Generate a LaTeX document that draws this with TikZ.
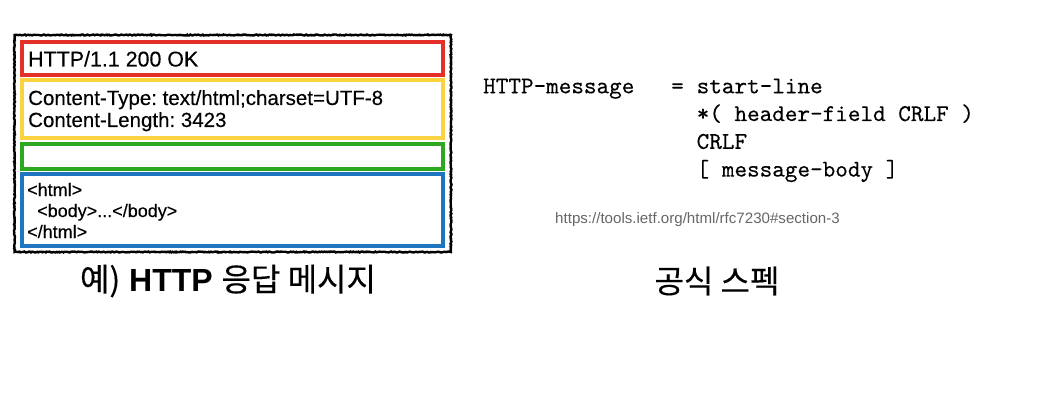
\documentclass[tikz,border=0pt]{standalone}
\usepackage{fontspec}
\setmainfont{Liberation Sans}
\newfontfamily\msgfont{Liberation Sans}[FakeBold=0.25]
\newfontfamily\krfont{Noto Sans CJK KR}[FakeBold=0.3]
\newfontfamily\abnffont{lmmono10-regular.otf}[FakeBold=0.25]
\usetikzlibrary{decorations.pathmorphing}
\definecolor{cred}{HTML}{E5302A}
\definecolor{cyellow}{HTML}{FBD340}
\definecolor{cgreen}{HTML}{2EA821}
\definecolor{cblue}{HTML}{1E76C0}
\definecolor{cgray}{HTML}{666666}
\frenchspacing
\tikzset{
  part/.style={line width=4pt},
  rough/.style={line width=2.4pt, decorate, decoration={random steps, segment length=1.2pt, amplitude=0.5pt}},
  msg/.style={anchor=base west, inner sep=0pt, font=\msgfont\fontsize{20.5}{22}\selectfont},
  html/.style={anchor=base west, inner sep=0pt, font=\msgfont\fontsize{18}{20}\selectfont},
  abnf/.style={anchor=base west, inner sep=0pt, font=\abnffont\fontsize{24}{26}\selectfont},
  caption/.style={anchor=center, inner sep=0pt, font=\fontsize{32}{34}\selectfont},
}
\begin{document}
\begin{tikzpicture}[x=1pt,y=-1pt]
\useasboundingbox (0,0) rectangle (1043,417);
% outer sketchy frame
\draw[rough] (14.5,35) rectangle (451,252);
% parts
\draw[part, cred] (22,42) rectangle (443,75);
\draw[part, cyellow] (22,80) rectangle (443,138);
\draw[part, cgreen] (22,144) rectangle (443,169);
\draw[part, cblue] (22,174) rectangle (443,246);
% texts in the message
\node[msg, font=\msgfont\fontsize{21.4}{23}\selectfont] (startline) at (28,66.5) {HTTP/1.1 200 OK};
\node[msg] (ctype) at (28,105) {Content-Type: text/html;charset=UTF-8};
\node[msg] (clen) at (28,127) {Content-Length: 3423};
\node[html] (h1) at (27,196) {<html>};
\node[html] (h2) at (37,217) {<body>...</body>};
\node[html] (h3) at (27,238) {</html>};
% caption left
\node[caption] (capl) at (228,281) {{\krfont 예)} \textbf{HTTP} {\krfont 응답 메시지}};
% ABNF
\node[abnf] (lhs) at (483,93.3) {HTTP-message};
\node[abnf] (eq) at (671,93.3) {=};
\node[abnf] (r1) at (696.5,93.3) {start-line};
\node[abnf] (r2) at (696.5,121) {*( header-field CRLF )};
\node[abnf] (r3) at (696.5,148.8) {CRLF};
\node[abnf] (r4) at (696.5,176.6) {[ message-body ]};
\node[anchor=base west, inner sep=0pt, text=cgray, font=\fontsize{15.1}{17}\selectfont] (url) at (555,223) {https://tools.ietf.org/html/rfc7230\#section-3};
\node[caption] (capr) at (717,281) {\krfont 공식 스펙};
\end{tikzpicture}
\end{document}
